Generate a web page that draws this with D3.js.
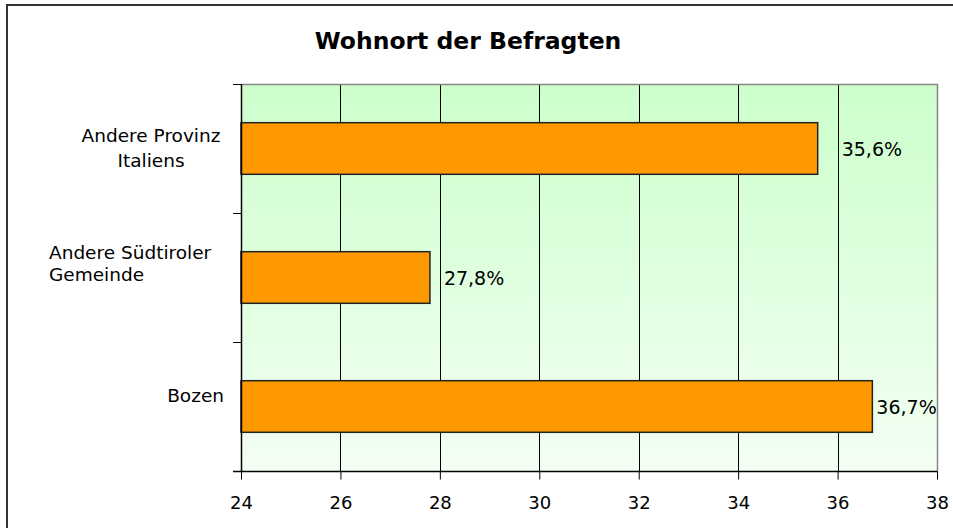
<!DOCTYPE html>
<html>
<head>
<meta charset="utf-8">
<script src="https://cdn.jsdelivr.net/npm/d3@7"></script>
<style>
  body { margin: 0; background: #fff; }
  text { font-family: "DejaVu Sans", Verdana, sans-serif; fill: #000; }
</style>
</head>
<body>
<div id="chart"></div>
<script>
// Wohnort der Befragten
var categories = ["Andere Provinz Italiens", "Andere Südtiroler Gemeinde", "Bozen"];
var labelLines = [["Andere Provinz", "Italiens"], ["Andere Südtiroler", "Gemeinde"], ["Bozen"]];
var values = [35.6, 27.8, 36.7];
var valueLabels = ["35,6%", "27,8%", "36,7%"];
var xTicks = [24, 26, 28, 30, 32, 34, 36, 38];

var width = 953,
height = 528,
pLeft = 241,
pRight = 937,
pTop = 84,
pBottom = 471;

var svg = d3.select("#chart")
	.append("svg")
	.attr("width", width)
	.attr("height", height);

var defs = svg.append("defs");
var grad = defs.append("linearGradient")
	.attr("id", "bg")
	.attr("x1", 0).attr("y1", 0)
	.attr("x2", 0).attr("y2", 1);
grad.append("stop").attr("offset", "0%").attr("stop-color", "#ccffcc");
grad.append("stop").attr("offset", "100%").attr("stop-color", "#f3fff3");

// outer frame
svg.append("rect")
	.attr("x", 7)
	.attr("y", 5)
	.attr("width", 980)
	.attr("height", 560)
	.attr("fill", "#fff")
	.attr("stroke", "#333")
	.attr("stroke-width", 2);

var x = d3.scaleLinear()
	.domain([24, 38])
	.range([pLeft, pRight]);

var y = d3.scaleBand()
	.domain(categories)
	.range([pTop, pBottom])
	.paddingInner(0.6)
	.paddingOuter(0.3);

// plot background
svg.append("rect")
	.attr("x", pLeft)
	.attr("y", pTop)
	.attr("width", pRight - pLeft)
	.attr("height", pBottom - pTop)
	.attr("fill", "url(#bg)");

// grid
svg.append("g").selectAll("line")
	.data(xTicks.slice(1, -1))
	.enter().append("line")
	.attr("x1", function(d) { return Math.round(x(d)) + 0.5; })
	.attr("x2", function(d) { return Math.round(x(d)) + 0.5; })
	.attr("y1", pTop)
	.attr("y2", pBottom)
	.attr("stroke", "#000")
	.attr("stroke-width", 1);

// gray top + right border
svg.append("path")
	.attr("d", "M" + pLeft + "," + (pTop + 0.5) + "H" + (pRight + 0.5) + "V" + pBottom)
	.attr("fill", "none")
	.attr("stroke", "#888")
	.attr("stroke-width", 1.5);

// bars
svg.append("g").selectAll("rect")
	.data(values)
	.enter().append("rect")
	.attr("x", x(24))
	.attr("y", function(d, i) { return y(categories[i]); })
	.attr("width", function(d) { return x(d) - x(24); })
	.attr("height", y.bandwidth())
	.attr("fill", "#ff9900")
	.attr("stroke", "#222")
	.attr("stroke-width", 1.5);

// value labels (excel places them a bit unevenly)
var labelGap = [24, 14, 4];
svg.append("g").selectAll("text")
	.data(values)
	.enter().append("text")
	.attr("x", function(d, i) { return x(d) + labelGap[i]; })
	.attr("y", function(d, i) { return y(categories[i]) + y.bandwidth() / 2 + 1; })
	.attr("dy", "0.36em")
	.attr("font-size", 19)
	.text(function(d, i) { return valueLabels[i]; });

// x axis
var xAxis = svg.append("g")
	.attr("transform", "translate(0," + (pBottom + 0.5) + ")")
	.call(d3.axisBottom(x).tickValues(xTicks).tickSize(8).tickPadding(17).tickFormat(d3.format("d")));
xAxis.select(".domain").attr("d", "M" + (pLeft - 8) + ",0H" + (pRight + 0.5)).attr("stroke", "#000").attr("stroke-width", 1.5);
xAxis.selectAll(".tick line").attr("stroke", "#000");
xAxis.selectAll(".tick text")
	.attr("font-size", 18)
	.attr("font-family", "DejaVu Sans, Verdana, sans-serif")
	.attr("fill", "#000");

// y axis line + ticks between bands
var bandEdges = [0, 1, 2, 3].map(function(i) { return pTop + (pBottom - pTop) * i / 3; });
svg.append("line")
	.attr("x1", pLeft + 0.5).attr("x2", pLeft + 0.5)
	.attr("y1", pTop).attr("y2", pBottom)
	.attr("stroke", "#000").attr("stroke-width", 1.5);
svg.append("g").selectAll("line")
	.data(bandEdges)
	.enter().append("line")
	.attr("x1", pLeft - 8).attr("x2", pLeft)
	.attr("y1", function(d) { return Math.round(d) + 0.5; })
	.attr("y2", function(d) { return Math.round(d) + 0.5; })
	.attr("stroke", "#000");

// category labels (Excel-like wrapping)
var anchors = ["middle", "start", "end"];
var anchorX = { middle: 151, start: 49, end: 224 };
var lineH = [25, 22, 0];
var catShift = [-0.5, -14.5, -11];
var labels = svg.append("g").selectAll("text")
	.data(labelLines)
	.enter().append("text")
	.attr("font-size", 18.5)
	.attr("text-anchor", function(d, i) { return anchors[i]; })
	.attr("transform", function(d, i) {
		var cy = y(categories[i]) + y.bandwidth() / 2 + catShift[i] - (d.length - 1) * lineH[i] / 2;
		return "translate(" + anchorX[anchors[i]] + "," + cy + ")";
	});
labels.selectAll("tspan")
	.data(function(d, i) { return d.map(function(t) { return { t: t, h: lineH[i] }; }); })
	.enter().append("tspan")
	.attr("x", 0)
	.attr("y", function(d, j) { return j * d.h; })
	.attr("dy", "0.36em")
	.text(function(d) { return d.t; });

// title
svg.append("text")
	.attr("x", 468)
	.attr("y", 41)
	.attr("dy", "0.36em")
	.attr("text-anchor", "middle")
	.attr("font-size", 23.5)
	.attr("font-weight", "bold")
	.text("Wohnort der Befragten");
</script>
</body>
</html>
